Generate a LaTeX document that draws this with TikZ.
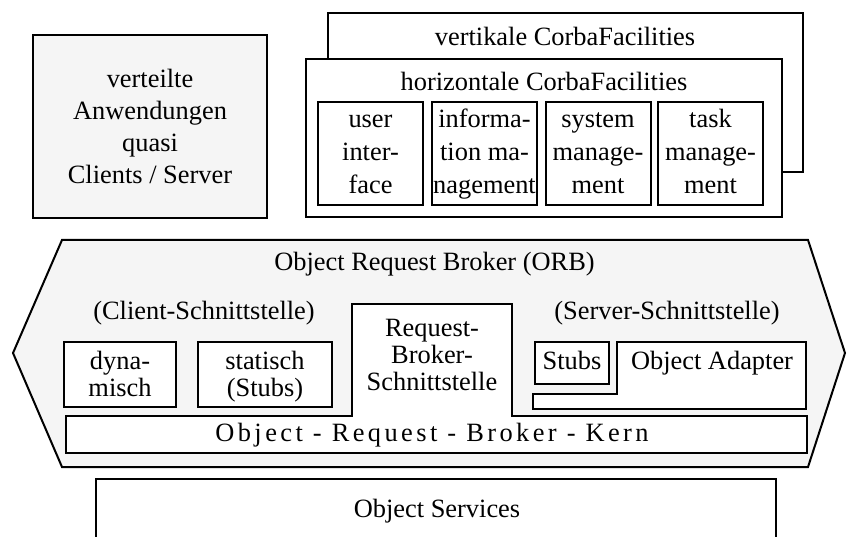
\documentclass[tikz,border=0pt]{standalone}
\usepackage{fontspec}
\setmainfont{Liberation Serif}
\usetikzlibrary{positioning}
\definecolor{paneGray}{HTML}{F5F5F5}

\begin{document}
\begin{tikzpicture}[x=1pt, y=-1pt, line width=2pt,
    every node/.style={font=\fontsize{26.4}{32}\selectfont, align=center, inner sep=0pt},
    facbox/.style={draw, fill=white, minimum width=105pt, minimum height=103pt},
    ifbox/.style={draw, fill=white, minimum height=65pt, font=\fontsize{26.4}{27}\selectfont}]
  \useasboundingbox (0,0) rectangle (848,537);

  % Anwendungen
  \node[draw, fill=paneGray, minimum width=234pt, minimum height=183pt] (apps) at (150,126.5)
    {verteilte\\Anwendungen\\quasi\\Clients / Server};

  % CorbaFacilities, vertikal hinter horizontal
  \draw[fill=white] (328,13) rectangle (803,172);
  \node (vert) at (565,36) {vertikale CorbaFacilities};
  \draw[fill=white] (306,59) rectangle (782,217);
  \node (horiz) at (544,81) {horizontale CorbaFacilities};
  \foreach \n/\x/\t in {ui/370.5/{user\\inter-\\face}, im/484.5/{informa-\\tion ma-\\nagement},
                        sm/598/{system\\manage-\\ment}, tm/710.5/{task\\manage-\\ment}}
    \node[facbox, font=\fontsize{26.4}{33}\selectfont] (\n) at (\x,153.5) {\strut\t\strut};

  % ORB
  \draw[fill=paneGray] (62,240) -- (808,240) -- (845,353) -- (808,467) -- (62,467) -- (13,353) -- cycle;
  \node (orb) at (434.5,264) {Object Request Broker (ORB)};
  \node (client) at (204,313) {(Client-Schnittstelle)};
  \node (server) at (667,313) {(Server-Schnittstelle)};
  \node[ifbox, minimum width=112pt] (dyn) at (120,374.5) {\rule{0pt}{25pt}dyna-\\misch\strut};
  \node[ifbox, minimum width=134pt] (stat) at (265,374.5) {\rule{0pt}{25pt}statisch\\(Stubs)\strut};

  % Request-Broker-Schnittstelle sitzt auf dem Kern
  \draw[fill=white] (66,416) -- (352,416) -- (352,304) -- (512,304) -- (512,416)
    -- (807,416) -- (807,453) -- (66,453) -- cycle;
  \node[font=\fontsize{26.4}{27}\selectfont] (rbs) at (432,358) {\strut Request-\\Broker-\\Schnittstelle\strut};
  \node (kern) at (432,435) {\addfontfeatures{LetterSpace=13}Object - Request - Broker - Kern};

  \node[draw, fill=white, minimum width=74pt, minimum height=42pt] (stubs) at (572,363) {\strut Stubs};
  \draw[fill=white] (617,342) -- (806,342) -- (806,409) -- (533,409) -- (533,394) -- (617,394) -- cycle;
  \node (oa) at (712,363) {\strut Object Adapter};

  % Object Services
  \draw[fill=white] (96,545) -- (96,479) -- (776,479) -- (776,545);
  \node (svc) at (437,511) {Object Services};
\end{tikzpicture}
\end{document}
